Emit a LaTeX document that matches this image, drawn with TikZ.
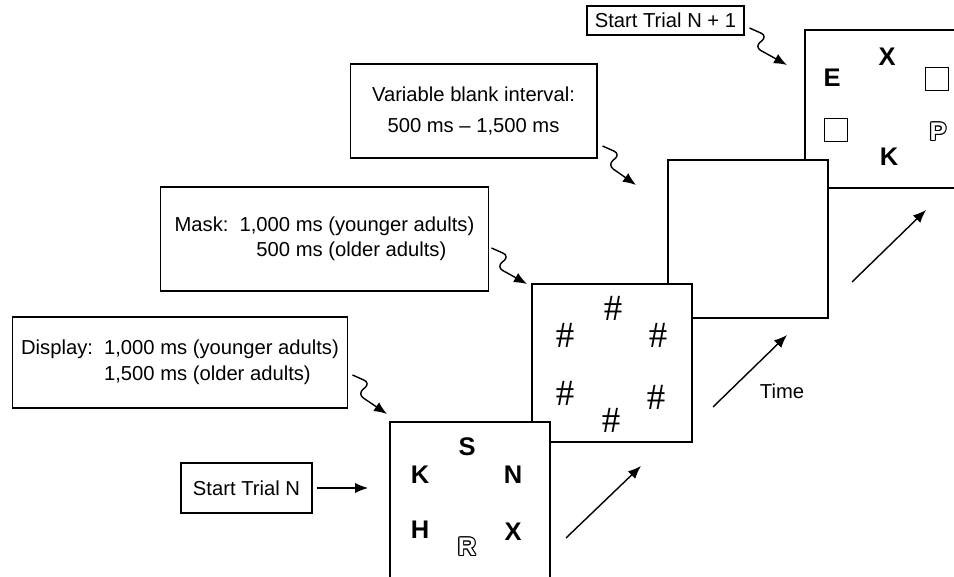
\documentclass[tikz,border=0pt]{standalone}
\usepackage{fontspec}
\setmainfont{Liberation Sans}
\newfontfamily\hashfont{Liberation Serif}
\usetikzlibrary{arrows.meta}

\begin{document}
\begin{tikzpicture}[x=0.02cm, y=-0.02cm,
    frame/.style ={draw, fill=white, line width=1.1pt, inner sep=0pt, minimum width=3.2cm, minimum height=3.16cm},
    infobox/.style ={draw, semithick, inner sep=0pt, font=\fontsize{11.5}{13.5}\selectfont},
    letter/.style ={inner sep=0pt, font=\fontsize{14.5}{16}\selectfont\bfseries},
    hash/.style ={inner sep=0pt, font=\fontsize{21}{22}\hashfont},
    emptybox/.style ={draw, semithick, inner sep=0pt, minimum size=0.46cm},
    wiggle/.style ={thick, rounded corners=4pt, -{Latex[length=2.6mm, width=2.1mm]}},
    timeline/.style ={thick, -{Latex[length=2.6mm, width=2.1mm]}}]
   \useasboundingbox (0,0) rectangle (954,577);

   % screens, later ones behind
   \node[frame] (next)  at (885,109) {};
   \node[frame] (blank) at (748,239) {};
   \node[frame] (mask)  at (612,363) {};
   \node[frame] (disp)  at (470,501) {};

   % display
   \node[letter] (dS) at (467,447) {S};
   \node[letter] (dK) at (420,475) {K};
   \node[letter] (dN) at (513,475) {N};
   \node[letter] (dH) at (420,530) {H};
   \node[letter] (dX) at (513,532) {X};
   \foreach \a in {0,45,...,315}
      \node[letter, shift={(\a:0.65pt)}] at (467,547) {R};
   \node[letter, text=white] (dR) at (467,547) {R};

   % mask
   \node[hash] (m1) at (613,308) {\#};
   \node[hash] (m2) at (565,335) {\#};
   \node[hash] (m3) at (658,335) {\#};
   \node[hash] (m4) at (565,393) {\#};
   \node[hash] (m5) at (656,397) {\#};
   \node[hash] (m6) at (611,420) {\#};

   % next trial
   \node[letter] (nX) at (887,57) {X};
   \node[letter] (nE) at (832,78) {E};
   \node[emptybox] (nB1) at (937,79) {};
   \node[emptybox] (nB2) at (836,130) {};
   \foreach \a in {0,45,...,315}
      \node[letter, shift={(\a:0.65pt)}] at (938,132) {P};
   \node[letter, text=white] (nP) at (938,132) {P};
   \node[letter] (nK) at (889,157) {K};

   % labels
   \node[infobox, minimum width=3.14cm, minimum height=0.58cm] (startnext) at (665.5,20.5) {Start Trial N + 1};
   \node[infobox, minimum width=4.94cm, minimum height=1.88cm, align=center] (blankinfo) at (473.5,111)
      {Variable blank interval:\\[4pt] 500 ms -- 1,500 ms};
   \node[infobox, minimum width=6.58cm, minimum height=2.08cm] (maskinfo) at (324.5,239)
      {\begin{tabular}{@{}l@{\hspace{0.55em}}l@{}}Mask: & 1,000 ms (younger adults)\\[0.5pt] & \hphantom{1,}500 ms (older adults)\end{tabular}};
   \node[infobox, minimum width=6.72cm, minimum height=1.82cm] (dispinfo) at (180,362.5)
      {\begin{tabular}{@{}l@{\hspace{0.55em}}l@{}}Display: & 1,000 ms (younger adults)\\[1.5pt] & 1,500 ms (older adults)\end{tabular}};
   \node[infobox, minimum width=2.62cm, minimum height=1cm] (startcur) at (246.5,488) {Start Trial N};

   \coordinate (nextin)  at (787,65);
   \coordinate (blankin) at (636,185);
   \coordinate (maskin)  at (527,284);
   \coordinate (dispin)  at (387,414);
   \coordinate (curin)   at (368,488);

   \draw[wiggle] ([xshift=0.1cm, yshift=-0.15cm]startnext.east) -- ++(18,8) -- ++(-13,11) -- (nextin);
   \draw[wiggle] ([xshift=0.1cm, yshift=-0.7cm]blankinfo.east) -- ++(18,8) -- ++(-13,11) -- (blankin);
   \draw[wiggle] ([xshift=0.04cm, yshift=-0.18cm]maskinfo.east) -- ++(18,8) -- ++(-13,11) -- (maskin);
   \draw[wiggle] ([xshift=0.08cm, yshift=-0.25cm]dispinfo.east) -- ++(18,8) -- ++(-13,11) -- (dispin);
   \draw[timeline] ([xshift=0.08cm]startcur.east) -- (curin);

   % time axis
   \coordinate (t1a) at (566,538);
   \coordinate (t1b) at (641,466);
   \coordinate (t2a) at (713,407);
   \coordinate (t2b) at (787,335);
   \coordinate (t3a) at (852,282);
   \coordinate (t3b) at (926,210);
   \draw[timeline] (t1a) -- (t1b);
   \draw[timeline] (t2a) -- (t2b);
   \draw[timeline] (t3a) -- (t3b);
   \node[font=\fontsize{11.5}{13.5}\selectfont] (time) at (782,391) {Time};
 \end{tikzpicture}
\end{document}
